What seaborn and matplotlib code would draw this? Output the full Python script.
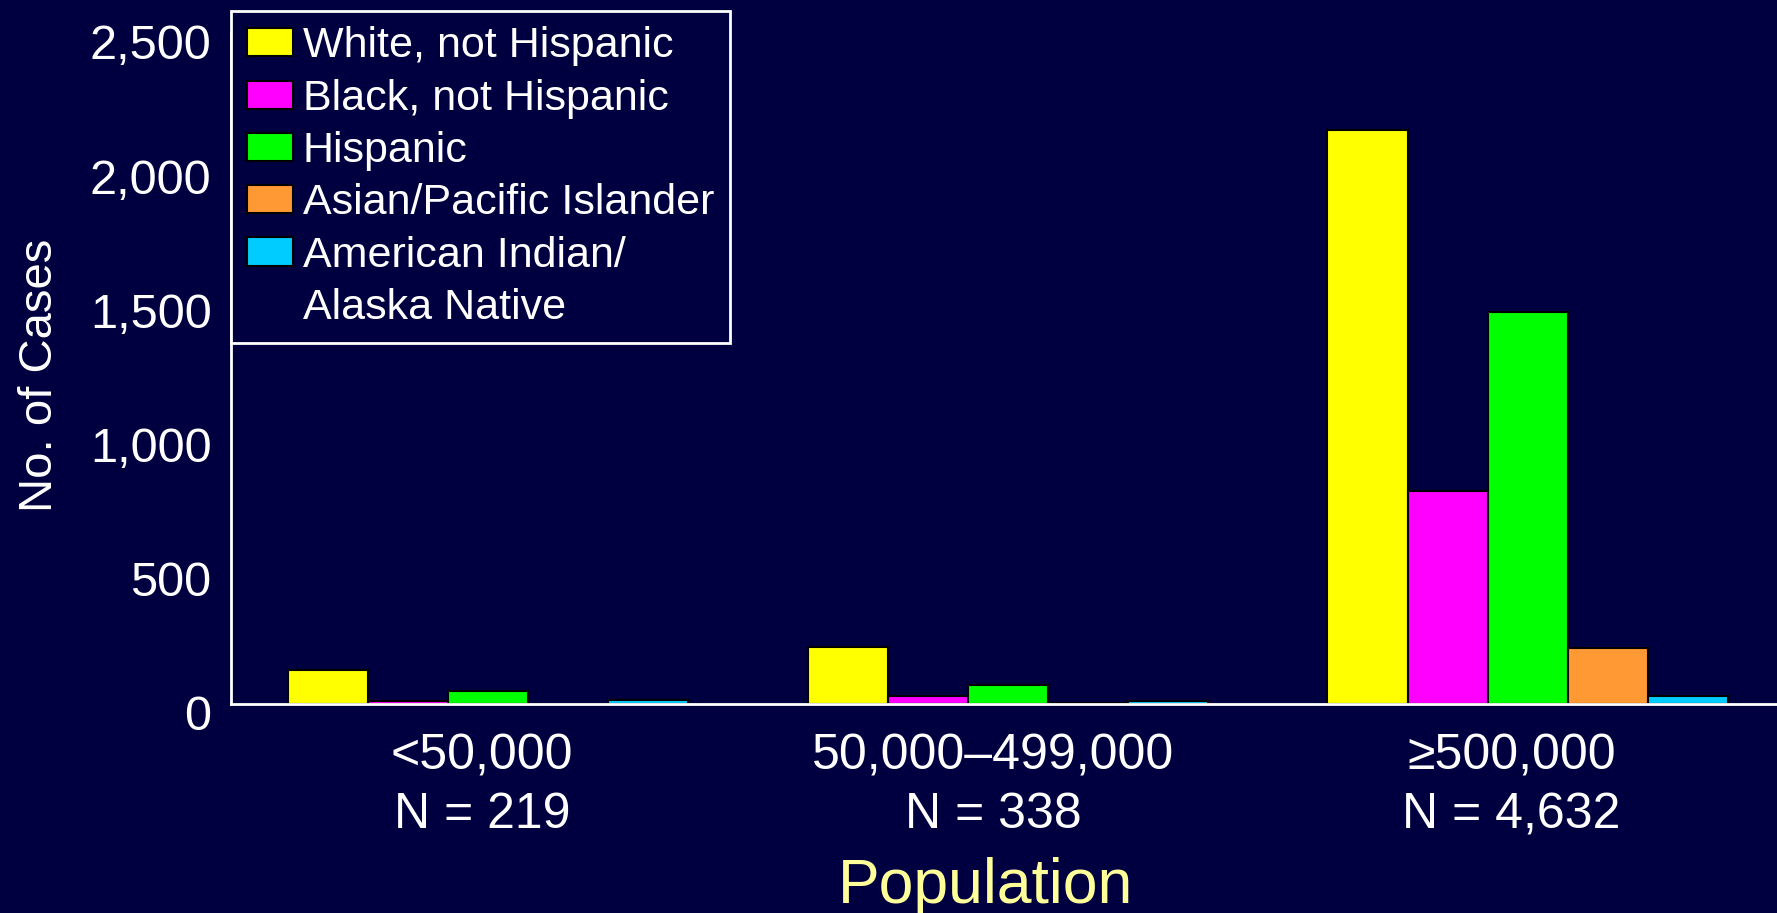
import seaborn as sns
import pandas as pd
import numpy as np
import matplotlib.pyplot as plt
from matplotlib.patches import Patch
from matplotlib.transforms import ScaledTranslation

# valores
grupos = ["<50,000\nN = 219", "50,000\u2013499,000\nN = 338", "\u2265500,000\nN = 4,632"]
razas = ["White, not Hispanic", "Black, not Hispanic", "Hispanic",
         "Asian/Pacific Islander", "American Indian/"]
white = [127, 211, 2137]
black = [12, 30, 795]
hispanic = [47, 72, 1459]
asian = [0, 5, 208]
aian = [15, 10, 28]

colores = ["#FFFF00", "#FF00FF", "#00FF00", "#FF9933", "#00CCFF"]
fondo = "#000040"

df = pd.DataFrame({
    "grupo": grupos * 5,
    "raza": np.repeat(razas, 3),
    "casos": white + black + hispanic + asian + aian,
})

sns.set_style("white")
plt.rcParams['font.family'] = ['Liberation Sans', 'DejaVu Sans']

fig = plt.figure(figsize=(17.77, 9.13), dpi=100, facecolor=fondo)
ax = fig.add_axes([0.130, 0.229, 0.870, 0.735])
ax.set_facecolor(fondo)

sns.barplot(data=df, x="grupo", y="casos", hue="raza", palette=colores, hue_order=razas,
            order=grupos, width=0.77, saturation=1, edgecolor="black", linewidth=1.5, ax=ax)

ax.set_xlim(-0.495, 2.48)
ax.set_ylim(0, 2500)
ax.set_yticks([0, 500, 1000, 1500, 2000, 2500])
ax.set_yticklabels(["0", "500", "1,000", "1,500", "2,000", "2,500"])

for s in ["top", "right"]:
    ax.spines[s].set_visible(False)
for s in ["left", "bottom"]:
    ax.spines[s].set_color("white")
    ax.spines[s].set_linewidth(2)

ax.tick_params(axis="y", length=0, pad=14, labelsize=35, labelcolor="white")
ax.tick_params(axis="x", length=0, pad=21, labelsize=36, labelcolor="white")
# las etiquetas del eje y van un poco mas abajo que la marca
bajar = ScaledTranslation(0, -9 / 100, fig.dpi_scale_trans)
for t in ax.get_yticklabels():
    t.set_transform(t.get_transform() + bajar)
# en el original las etiquetas del eje x estan algo corridas a la izquierda
corrimientos = [-6, -15, -16]
for t, dx in zip(ax.get_xticklabels(), corrimientos):
    t.set_linespacing(1.36)
    t.set_transform(t.get_transform() + ScaledTranslation(dx / 100, 0, fig.dpi_scale_trans))

ax.set_ylabel("No. of Cases", fontsize=34, color="white")
ax.yaxis.set_label_coords(-0.109, 0.49)
ax.set_xlabel("Population", fontsize=45, color="#FFFF99")
ax.xaxis.set_label_coords(0.488, -0.228)

# leyenda: la ultima etiqueta en dos filas, la segunda sin cuadro
handles, labels = ax.get_legend_handles_labels()
handles.append(Patch(facecolor="none", edgecolor="none"))
labels.append("Alaska Native")
leg = ax.legend(handles, labels, loc="upper left",
                bbox_to_anchor=(231 / 1777, 1 - 11 / 913), bbox_transform=fig.transFigure,
                borderaxespad=0, fontsize=31, frameon=True, fancybox=False,
                handlelength=1.07, handleheight=0.63, handletextpad=0.24,
                labelspacing=0.285, borderpad=0.36)
leg.get_frame().set_facecolor(fondo)
leg.get_frame().set_edgecolor("white")
leg.get_frame().set_linewidth(2)
leg.get_frame().set_alpha(1)
for t in leg.get_texts():
    t.set_color("white")

fig.savefig("out.png", dpi=100, facecolor=fondo)
